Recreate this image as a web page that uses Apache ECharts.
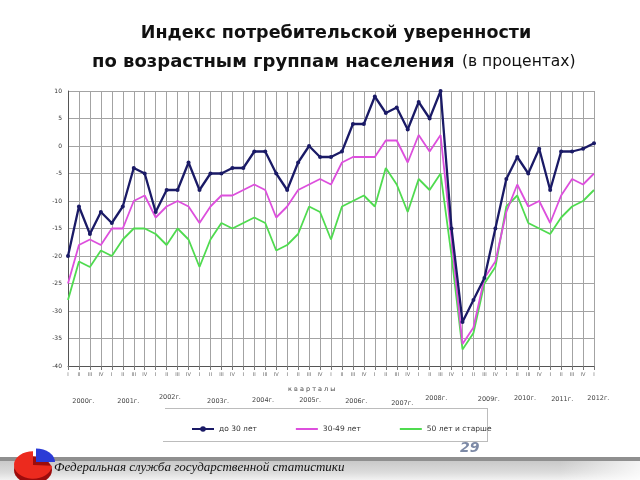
<!DOCTYPE html>
<html>
<head>
<meta charset="utf-8">
<script src="https://cdn.jsdelivr.net/npm/echarts@6/dist/echarts.min.js"></script>
<style>
html,body{margin:0;padding:0;background:#fff;}
#c{width:640px;height:480px;}
</style>
</head>
<body>
<div id="c"></div>
<script>
// ---- data ----
var quarterNames = ['I', 'II', 'III', 'IV'];
var years = ['2000г.', '2001г.', '2002г.', '2003г.', '2004г.', '2005г.', '2006г.', '2007г.', '2008г.', '2009г.', '2010г.', '2011г.', '2012г.'];
var categories = [];
for (var y = 0; y < years.length; y++) {
  var nq = (y === years.length - 1) ? 1 : 4;
  for (var q = 0; q < nq; q++) categories.push(quarterNames[q]);
}
var seriesNames = ['до 30 лет', '30-49 лет', '50 лет и старше'];
var under30 = [-20, -11, -16, -12, -14, -11, -4, -5, -12, -8, -8, -3, -8, -5, -5, -4, -4, -1, -1, -5, -8, -3, 0, -2, -2, -1, 4, 4, 9, 6, 7, 3, 8, 5, 10, -15, -32, -28, -24, -15, -6, -2, -5, -0.5, -8, -1, -1, -0.5, 0.5];
var age30to49 = [-25, -18, -17, -18, -15, -15, -10, -9, -13, -11, -10, -11, -14, -11, -9, -9, -8, -7, -8, -13, -11, -8, -7, -6, -7, -3, -2, -2, -2, 1, 1, -3, 2, -1, 2, -17, -36, -33, -24, -21, -12, -7, -11, -10, -14, -9, -6, -7, -5];
var age50plus = [-28, -21, -22, -19, -20, -17, -15, -15, -16, -18, -15, -17, -22, -17, -14, -15, -14, -13, -14, -19, -18, -16, -11, -12, -17, -11, -10, -9, -11, -4, -7, -12, -6, -8, -5, -20, -37, -34, -25, -22, -11, -9, -14, -15, -16, -13, -11, -10, -8];
// year label: category position of its centre + small vertical stagger (style)
var yearCenterIndex = [1.4, 5.5, 9.3, 13.7, 17.8, 22.1, 26.3, 30.5, 33.6, 38.4, 41.7, 45.1, 48.4];
var yearDy = [0, 0, -4, 0, -1, -1, 0, 2, -3, -2, -3, -2, -3];

var chart = echarts.init(document.getElementById('c'), null, {renderer: 'canvas'});

var option = {
  animation: false,
  backgroundColor: '#ffffff',
  grid: {left: 68, right: 46, top: 91, bottom: 114, containLabel: false},
  legend: {
    data: [
      {name: seriesNames[0]},
      {name: seriesNames[1], itemStyle: {opacity: 0}},
      {name: seriesNames[2], itemStyle: {opacity: 0}}
    ],
    left: 186, top: 420,
    itemWidth: 22, itemHeight: 7, itemGap: 38,
    textStyle: {fontSize: 7.5, color: '#333', fontFamily: 'DejaVu Sans'}
  },
  xAxis: {
    type: 'category',
    data: categories,
    boundaryGap: false,
    axisLine: {onZero: false, lineStyle: {color: '#555', width: 1}},
    axisTick: {show: true, interval: 0, length: 4, lineStyle: {color: '#777'}},
    axisLabel: {interval: 0, fontSize: 5, color: '#666', margin: 6, fontFamily: 'DejaVu Sans'},
    splitLine: {show: true, interval: 0, lineStyle: {color: '#a3a3a3', width: 1}}
  },
  yAxis: {
    type: 'value',
    min: -40, max: 10, interval: 5,
    axisLine: {show: true, lineStyle: {color: '#555'}},
    axisTick: {show: false},
    axisLabel: {fontSize: 6, color: '#333', margin: 6, fontFamily: 'DejaVu Sans'},
    splitLine: {show: true, lineStyle: {color: '#a3a3a3', width: 1}}
  },
  series: [
    {
      name: seriesNames[0], type: 'line', data: under30,
      symbol: 'circle', symbolSize: 4, z: 5,
      lineStyle: {color: '#1a1a66', width: 2.3},
      itemStyle: {color: '#1a1a66'}
    },
    {
      name: seriesNames[1], type: 'line', data: age30to49,
      symbol: 'none', z: 4,
      lineStyle: {color: '#dd4fdd', width: 1.8},
      itemStyle: {color: '#dd4fdd'}
    },
    {
      name: seriesNames[2], type: 'line', data: age50plus,
      symbol: 'none', z: 3,
      lineStyle: {color: '#4fdb4f', width: 1.8},
      itemStyle: {color: '#4fdb4f'}
    }
  ]
};
chart.setOption(option);

var x0 = chart.convertToPixel({xAxisIndex: 0}, 0);
var x48 = chart.convertToPixel({xAxisIndex: 0}, categories.length - 1);
var step = (x48 - x0) / (categories.length - 1);

// graphics: titles, year labels, frame, footer
var g = [];
g.push({type: 'text', x: 336, y: 33, style: {
  text: 'Индекс потребительской уверенности', font: 'bold 17.5px "DejaVu Sans"', fill: '#111',
  align: 'center', verticalAlign: 'middle'
}});
g.push({type: 'text', x: 92, y: 62, style: {
  text: 'по возрастным группам населения', font: 'bold 18px "DejaVu Sans"', fill: '#111',
  verticalAlign: 'middle'
}});
g.push({type: 'text', x: 462, y: 62, style: {
  text: '(в процентах)', font: '15.5px "DejaVu Sans"', fill: '#111',
  verticalAlign: 'middle'
}});
g.push({type: 'text', x: 288, y: 386, style: {
  text: 'к в а р т а л ы', font: '6.5px "DejaVu Sans"', fill: '#444'
}});
for (var i = 0; i < years.length; i++) {
  var px = x0 + yearCenterIndex[i] * step;
  g.push({type: 'text', x: px, y: 401 + yearDy[i], style: {
    text: years[i], font: '6.5px "DejaVu Sans"', fill: '#444', align: 'center', verticalAlign: 'middle'
  }});
}
// legend frame
g.push({type: 'line', shape: {x1: 165, y1: 408.5, x2: 487, y2: 408.5}, style: {stroke: '#bcbcbc', lineWidth: 1}});
g.push({type: 'line', shape: {x1: 163, y1: 441.5, x2: 487, y2: 441.5}, style: {stroke: '#bcbcbc', lineWidth: 1}});
g.push({type: 'line', shape: {x1: 487.5, y1: 408, x2: 487.5, y2: 442}, style: {stroke: '#bcbcbc', lineWidth: 1}});
// page number
g.push({type: 'text', x: 460, y: 441, style: {
  text: '29', font: 'italic bold 14px "DejaVu Sans"', fill: '#7d8aa6'
}});
// footer band
g.push({type: 'rect', shape: {x: 0, y: 457, width: 640, height: 4}, style: {fill: '#8f8f8f'}});
g.push({type: 'rect', shape: {x: 0, y: 461, width: 640, height: 19}, style: {
  fill: {type: 'linear', x: 0, y: 0, x2: 0, y2: 1, colorStops: [
    {offset: 0, color: '#c9c9c9'}, {offset: 0.6, color: '#dcdcdc'}, {offset: 1, color: '#f2f2f2'}
  ]}
}});
g.push({type: 'rect', shape: {x: 560, y: 461, width: 80, height: 19}, style: {
  fill: {type: 'linear', x: 0, y: 0, x2: 1, y2: 0, colorStops: [
    {offset: 0, color: 'rgba(255,255,255,0)'}, {offset: 1, color: 'rgba(255,255,255,0.8)'}
  ]}
}});
// logo (flattened pie)
g.push({type: 'group', x: 33, y: 465, scaleY: 0.72, children: [
  {type: 'circle', shape: {cx: 0, cy: 7, r: 19}, style: {fill: '#9c0c0c'}},
  {type: 'sector', shape: {cx: 0, cy: 0, r: 19, r0: 0, startAngle: Math.PI * 0.02, endAngle: Math.PI * 1.5}, style: {fill: '#ec2a1e'}},
  {type: 'sector', shape: {cx: 3, cy: -4, r: 19, r0: 0, startAngle: -Math.PI * 0.5, endAngle: 0}, style: {fill: '#2b3bd6'}}
]});
g.push({type: 'text', x: 54, y: 468, style: {
  text: 'Федеральная служба государственной статистики', font: 'italic 13px "Liberation Serif"', fill: '#111',
  verticalAlign: 'middle'
}});

chart.setOption({graphic: g});
</script>
</body>
</html>
